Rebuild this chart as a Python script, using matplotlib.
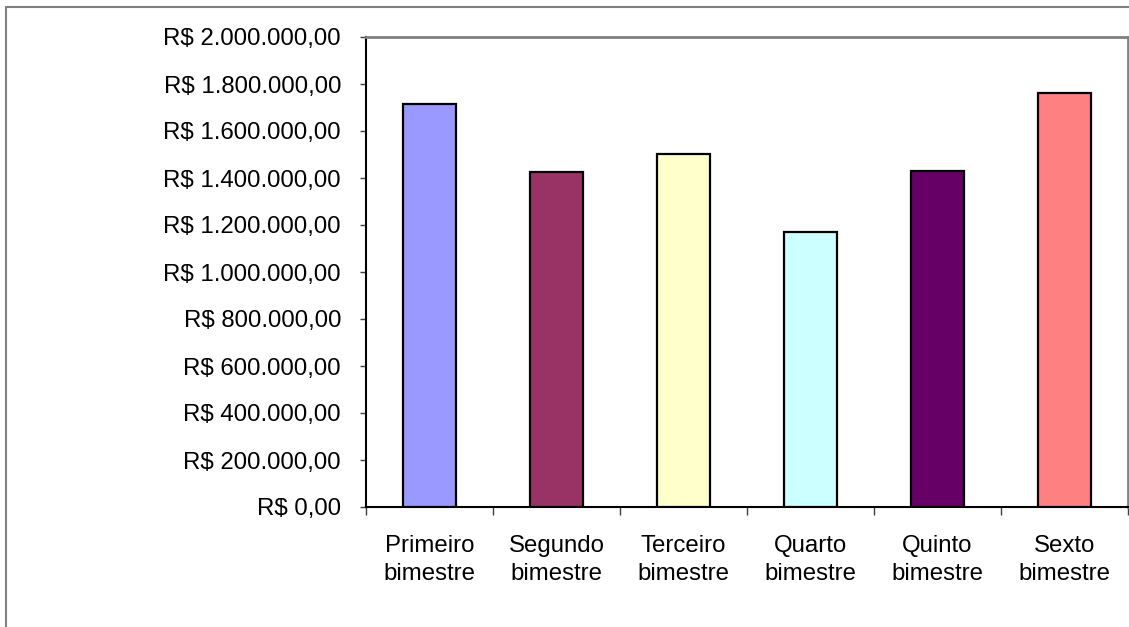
import matplotlib.pyplot as plt
import matplotlib.patches as mpatches
from matplotlib.ticker import FuncFormatter

plt.rcParams['font.family'] = ['Liberation Sans', 'DejaVu Sans']

# dados
bimestres = ['Primeiro\nbimestre', 'Segundo\nbimestre', 'Terceiro\nbimestre',
             'Quarto\nbimestre', 'Quinto\nbimestre', 'Sexto\nbimestre']
valores = [1715000, 1424000, 1502000, 1170000, 1431000, 1763000]
cores = ['#9999FF', '#993366', '#FFFFCC', '#CCFFFF', '#660066', '#FF8080']


def reais(v, pos):
    s = '{:,.2f}'.format(v)
    s = s.replace(',', 'X').replace('.', ',').replace('X', '.')
    return 'R$ ' + s


W, H = 1129, 627
fig = plt.figure(figsize=(W / 100, H / 100), dpi=100, facecolor='w')

# borda externa do grafico
fig.add_artist(mpatches.Rectangle((6 / W, -0.1), 1.2, 1 - 7 / H + 0.1,
                                  transform=fig.transFigure, fill=False,
                                  edgecolor='#808080', linewidth=1.5))

ax = fig.add_axes([366 / W, 1 - 507 / H, (1128 - 366) / W, (507 - 37) / H])
x = range(len(valores))
ax.bar(x, valores, width=0.42, color=cores, edgecolor='black', linewidth=1.6, zorder=3)

ax.set_xlim(-0.5, len(valores) - 0.5)
ax.set_ylim(0, 2000000)
ax.set_yticks(range(0, 2000001, 200000))
ax.yaxis.set_major_formatter(FuncFormatter(reais))
ax.set_xticks(list(x))
ax.set_xticklabels(bimestres, linespacing=1.35)
ax.set_xticks([i + 0.5 for i in range(-1, len(valores))], minor=True)

ax.tick_params(axis='y', direction='out', length=4, width=1, color='#404040',
               pad=14, labelsize=17.3)
ax.tick_params(axis='x', which='major', length=0, pad=20, labelsize=17.3)
ax.tick_params(axis='x', which='minor', direction='out', length=6, width=1,
               color='#404040')

for lado in ['top', 'right']:
    ax.spines[lado].set_color('#808080')
    ax.spines[lado].set_linewidth(2)
for lado in ['left', 'bottom']:
    ax.spines[lado].set_color('black')
    ax.spines[lado].set_linewidth(1.5)

plt.savefig('out.png', dpi=100)
